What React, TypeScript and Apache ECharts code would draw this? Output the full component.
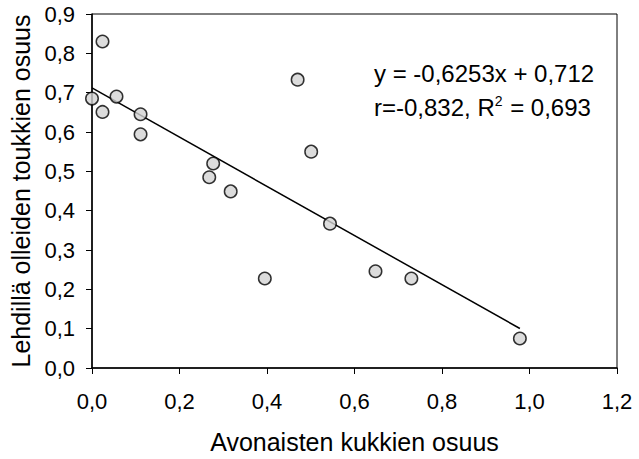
import React, { useEffect, useRef } from "react";
import * as echarts from "echarts";

// Share of open flowers (x) vs. share of larvae found on leaves (y)
const openFlowerShare: number[] = [
  0.0, 0.024, 0.024, 0.056, 0.111, 0.111, 0.268, 0.277, 0.317, 0.395, 0.47,
  0.501, 0.544, 0.648, 0.73, 0.978,
];
const leafLarvaeShare: number[] = [
  0.685, 0.83, 0.651, 0.69, 0.645, 0.594, 0.485, 0.52, 0.449, 0.2275, 0.733,
  0.55, 0.367, 0.246, 0.2275, 0.075,
];

// Linear fit reported for the data
const slope = -0.6253;
const intercept = 0.712;
const equationText = "y = -0,6253x + 0,712";
// {sup|...} renders as a superscript
const statsText = "r=-0,832, R{sup|2} = 0,693";

const xTicks = { min: 0, max: 1.2, interval: 0.2 };
const yTicks = { min: 0, max: 0.9, interval: 0.1 };

const xTitle = "Avonaisten kukkien osuus";
const yTitle = "Lehdillä olleiden toukkien osuus";

const FONT = "'Liberation Sans', Arial, sans-serif";

const fmt = (v: number) => v.toFixed(1).replace(".", ",");

export default function App() {
  const ref = useRef<HTMLDivElement>(null);

  useEffect(() => {
    if (!ref.current) return;
    const chart = echarts.init(ref.current, undefined, { renderer: "svg" });

    const points = openFlowerShare.map((x, i) => [x, leafLarvaeShare[i]]);
    const xMin = Math.min(...openFlowerShare);
    const xMax = Math.max(...openFlowerShare);
    const fitLine = [
      [xMin, intercept + slope * xMin],
      [xMax, intercept + slope * xMax],
    ];

    chart.setOption({
      animation: false,
      backgroundColor: "#ffffff",
      grid: {
        left: 92,
        right: 22,
        top: 14,
        bottom: 89,
        show: true,
        borderColor: "#000",
        borderWidth: 1,
        backgroundColor: "transparent",
      },
      xAxis: {
        type: "value",
        min: xTicks.min,
        max: xTicks.max,
        interval: xTicks.interval,
        name: xTitle,
        nameLocation: "middle",
        nameGap: 61,
        nameTextStyle: { fontFamily: FONT, fontSize: 25, color: "#000" },
        axisLine: { show: true, onZero: false, lineStyle: { color: "#000", width: 1.5 } },
        axisTick: { show: true, inside: false, length: 6, lineStyle: { color: "#000", width: 1 } },
        axisLabel: {
          margin: 22,
          fontFamily: FONT,
          fontSize: 22,
          color: "#000",
          formatter: (v: number) => fmt(v),
        },
        splitLine: { show: false },
      },
      yAxis: {
        type: "value",
        min: yTicks.min,
        max: yTicks.max,
        interval: yTicks.interval,
        name: yTitle,
        nameLocation: "middle",
        nameGap: 57,
        nameTextStyle: { fontFamily: FONT, fontSize: 25, color: "#000" },
        axisLine: { show: true, onZero: false, lineStyle: { color: "#000", width: 1.5 } },
        axisTick: { show: true, inside: false, length: 6, lineStyle: { color: "#000", width: 1 } },
        axisLabel: {
          margin: 17,
          fontFamily: FONT,
          fontSize: 22,
          color: "#000",
          formatter: (v: number) => fmt(v),
        },
        splitLine: { show: false },
      },
      series: [
        {
          type: "line",
          data: fitLine,
          symbol: "none",
          lineStyle: { color: "#000", width: 1.5 },
          silent: true,
          z: 2,
        },
        {
          type: "scatter",
          data: points,
          symbol: "circle",
          symbolSize: 12.5,
          itemStyle: { color: "#d3d3d3", borderColor: "#000", borderWidth: 1.5 },
          z: 3,
        },
      ],
      graphic: [
        {
          type: "text",
          left: 374,
          top: 61,
          style: {
            text: equationText,
            fontFamily: FONT,
            fontSize: 24,
            fill: "#000",
          },
        },
        {
          type: "text",
          left: 374,
          top: 94,
          style: {
            text: statsText,
            fontFamily: FONT,
            fontSize: 24,
            fill: "#000",
            rich: {
              sup: {
                fontFamily: FONT,
                fontSize: 14,
                fill: "#000",
                verticalAlign: "top",
                padding: [0, 1, 12, 0],
              },
            },
          },
        },
      ],
    });

    return () => chart.dispose();
  }, []);

  return (
    <div
      ref={ref}
      style={{ position: "fixed", left: 0, top: 0, width: 639, height: 459, background: "#fff" }}
    />
  );
}
